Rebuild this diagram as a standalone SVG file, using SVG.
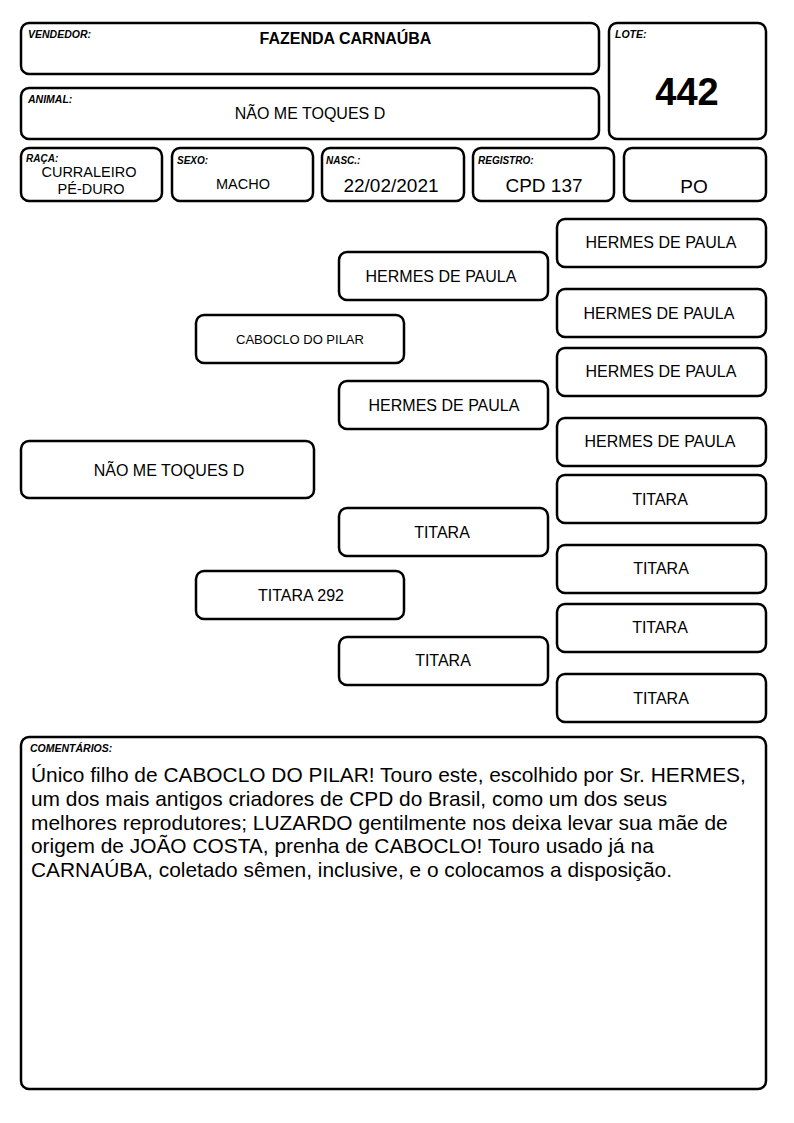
<svg xmlns="http://www.w3.org/2000/svg" width="794" height="1123" viewBox="0 0 794 1123">
<style>
.b{fill:#fff;stroke:#000;stroke-width:2.5}
.t{font-family:"Liberation Sans",Arial,sans-serif;fill:#000}
.lbl{font-family:"Liberation Sans",Arial,sans-serif;font-style:italic;font-weight:bold;font-size:10.5px;fill:#000}
.c{text-anchor:middle}
.p{font-family:"Liberation Sans",Arial,sans-serif;font-size:16px;text-anchor:middle;fill:#000}
.cm{font-family:"Liberation Sans",Arial,sans-serif;font-size:20.9px;fill:#000}
</style>
<rect width="794" height="1123" fill="#fff"/>
<g id="vendedor">
<rect class="b" x="21" y="23" width="578" height="51" rx="8"/>
<text class="lbl" x="28" y="38">VENDEDOR:</text>
<text class="t c" x="345.5" y="44" font-size="16" font-weight="bold">FAZENDA CARNAÚBA</text>
</g>
<g id="lote">
<rect class="b" x="609" y="23" width="157" height="116" rx="8"/>
<text class="lbl" x="615" y="38">LOTE:</text>
<text class="t c" x="687" y="105" font-size="38" font-weight="bold">442</text>
</g>
<g id="animal">
<rect class="b" x="21" y="88" width="578" height="51" rx="8"/>
<text class="lbl" x="28" y="103">ANIMAL:</text>
<text class="t c" x="310" y="119" font-size="16">NÃO ME TOQUES D</text>
</g>
<g id="raca">
<rect class="b" x="21" y="148" width="141" height="53" rx="8"/>
<text class="lbl" x="26" y="162" style="font-size:10px">RAÇA:</text>
<text class="t c" x="89" y="177" font-size="14.5">CURRALEIRO</text>
<text class="t c" x="91" y="194" font-size="14.5">PÉ-DURO</text>
</g>
<g id="sexo">
<rect class="b" x="172" y="148" width="141" height="53" rx="8"/>
<text class="lbl" x="177" y="164" style="font-size:10px">SEXO:</text>
<text class="t c" x="243" y="189" font-size="14.5">MACHO</text>
</g>
<g id="nasc">
<rect class="b" x="322" y="148" width="142" height="53" rx="8"/>
<text class="lbl" x="326" y="164" style="font-size:10px">NASC.:</text>
<text class="t c" x="391" y="192" font-size="19">22/02/2021</text>
</g>
<g id="registro">
<rect class="b" x="473" y="148" width="141" height="53" rx="8"/>
<text class="lbl" x="478" y="164" style="font-size:10px">REGISTRO:</text>
<text class="t c" x="544" y="192" font-size="19">CPD 137</text>
</g>
<g id="po">
<rect class="b" x="624" y="148" width="142" height="53" rx="8"/>
<text class="t c" x="694" y="193" font-size="19">PO</text>
</g>
<g id="connectors"></g>
<g id="gen1">
<rect class="b" x="21" y="441" width="293" height="57" rx="8"/>
<text class="p" x="169" y="476">NÃO ME TOQUES D</text>
</g>
<g id="pai">
<rect class="b" x="196" y="315" width="208" height="48" rx="8"/>
<text class="p" x="300" y="344" style="font-size:13px">CABOCLO DO PILAR</text>
</g>
<g id="mae">
<rect class="b" x="196" y="571" width="208" height="48" rx="8"/>
<text class="p" x="301" y="601">TITARA 292</text>
</g>
<g id="avo1">
<rect class="b" x="339" y="252" width="209" height="48" rx="8"/>
<text class="p" x="441" y="282">HERMES DE PAULA</text>
</g>
<g id="avo2">
<rect class="b" x="339" y="381" width="209" height="48" rx="8"/>
<text class="p" x="444" y="411">HERMES DE PAULA</text>
</g>
<g id="avo3">
<rect class="b" x="339" y="508" width="209" height="48" rx="8"/>
<text class="p" x="442" y="538">TITARA</text>
</g>
<g id="avo4">
<rect class="b" x="339" y="637" width="209" height="48" rx="8"/>
<text class="p" x="443" y="666">TITARA</text>
</g>
<g id="bis1">
<rect class="b" x="557" y="219" width="209" height="48" rx="8"/>
<text class="p" x="661" y="248">HERMES DE PAULA</text>
</g>
<g id="bis2">
<rect class="b" x="557" y="289" width="209" height="48" rx="8"/>
<text class="p" x="659" y="319">HERMES DE PAULA</text>
</g>
<g id="bis3">
<rect class="b" x="557" y="348" width="209" height="48" rx="8"/>
<text class="p" x="661" y="377">HERMES DE PAULA</text>
</g>
<g id="bis4">
<rect class="b" x="557" y="418" width="209" height="48" rx="8"/>
<text class="p" x="660" y="447">HERMES DE PAULA</text>
</g>
<g id="bis5">
<rect class="b" x="557" y="475" width="209" height="48" rx="8"/>
<text class="p" x="660" y="505">TITARA</text>
</g>
<g id="bis6">
<rect class="b" x="557" y="545" width="209" height="48" rx="8"/>
<text class="p" x="661" y="574">TITARA</text>
</g>
<g id="bis7">
<rect class="b" x="557" y="604" width="209" height="48" rx="8"/>
<text class="p" x="660" y="633">TITARA</text>
</g>
<g id="bis8">
<rect class="b" x="557" y="674" width="209" height="48" rx="8"/>
<text class="p" x="661" y="704">TITARA</text>
</g>
<g id="comentarios">
<rect class="b" x="21" y="737" width="745" height="352" rx="8"/>
<text class="lbl" x="30" y="752">COMENTÁRIOS:</text>
<text class="cm" x="31" y="782">Único filho de CABOCLO DO PILAR! Touro este, escolhido por Sr. HERMES,</text>
<text class="cm" x="31" y="806">um dos mais antigos criadores de CPD do Brasil, como um dos seus</text>
<text class="cm" x="31" y="830">melhores reprodutores; LUZARDO gentilmente nos deixa levar sua mãe de</text>
<text class="cm" x="31" y="853">origem de JOÃO COSTA, prenha de CABOCLO! Touro usado já na</text>
<text class="cm" x="31" y="877">CARNAÚBA, coletado sêmen, inclusive, e o colocamos a disposição.</text>
</g>
</svg>
